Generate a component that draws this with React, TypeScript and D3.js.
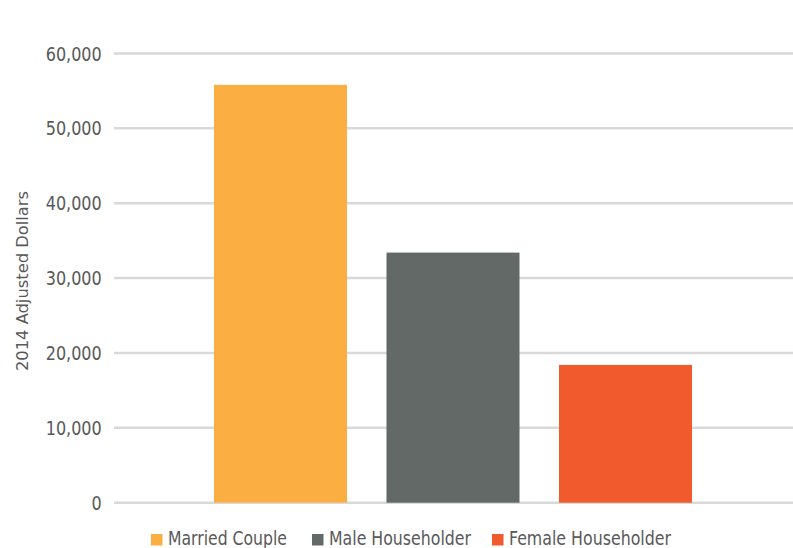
import React from "react";
import * as d3 from "d3";

const categories = ["Married Couple", "Male Householder", "Female Householder"];
const values = [55800, 33400, 18400];
const colors = ["#FBAF43", "#636967", "#F05A2C"];
const yTicks = [0, 10000, 20000, 30000, 40000, 50000, 60000];
const yTitle = "2014 Adjusted Dollars";

const W = 793;
const H = 548;
const FONT = "'DejaVu Sans Condensed', 'DejaVu Sans', sans-serif";

export default function App() {
  const y = d3.scaleLinear().domain([0, 60000]).range([502.7, 53.4]);
  const x = d3.scaleBand<string>().domain(categories).range([194.25, 711.75]).paddingInner(0.229).paddingOuter(0.1145);
  const fmt = d3.format(",");
  const gridX0 = 114;
  const gridX1 = 793;
  const legendX = [151, 312, 492];
  const legendTextLen = [119, 142, 162];
  return (
    <div style={{ position: "absolute", left: 0, top: 0 }}>
      <svg width={W} height={H} style={{ display: "block" }}>
        <rect width={W} height={H} fill="#fff" />
        {yTicks.map((t) => (
          <g key={t}>
            <line x1={gridX0} x2={gridX1} y1={y(t)} y2={y(t)} stroke="#D9D9D9" strokeWidth={2.5} />
            <text
              transform={`translate(101.7,${y(t)}) scale(0.89,1)`}
              dy="0.36em"
              textAnchor="end"
              fontFamily={FONT}
              fontSize={20}
              fill="#595959"
            >
              {fmt(t)}
            </text>
          </g>
        ))}
        {categories.map((c, i) => (
          <rect key={c} x={x(c)} y={y(values[i])} width={x.bandwidth()} height={y(0) - y(values[i])} fill={colors[i]} />
        ))}
        <text
          transform={`translate(28,281) rotate(-90)`}
          textAnchor="middle"
          fontFamily={FONT}
          fontSize={16}
          fill="#595959"
          textLength={180}
          lengthAdjust="spacingAndGlyphs"
        >
          {yTitle}
        </text>
        {categories.map((c, i) => (
          <g key={c} transform={`translate(${legendX[i]},534)`}>
            <rect x={0} y={0} width={11.5} height={11.5} fill={colors[i]} />
            <text
              x={17}
              y={10.7}
              fontFamily={FONT}
              fontSize={20}
              fill="#595959"
              textLength={legendTextLen[i]}
              lengthAdjust="spacingAndGlyphs"
            >
              {c}
            </text>
          </g>
        ))}
      </svg>
    </div>
  );
}
